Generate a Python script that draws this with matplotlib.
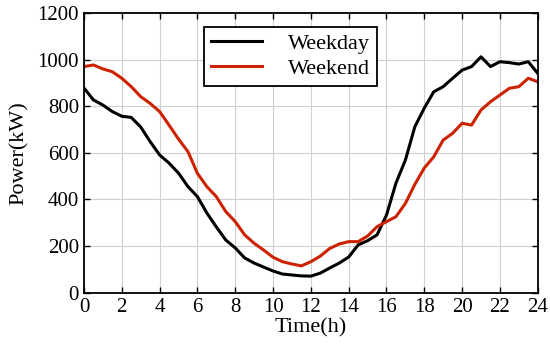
import matplotlib
matplotlib.use('Agg')
import matplotlib.pyplot as plt
import numpy as np

plt.rcParams['font.family'] = ['Liberation Serif', 'DejaVu Serif']

# half-hourly samples
hours = np.arange(0, 24.5, 0.5)
weekday = [878, 827, 805, 777, 757, 752, 711, 648, 591, 556,
           513, 455, 412, 342, 282, 226, 192, 149, 127, 110,
           93, 80, 76, 72, 71, 84, 106, 127, 153, 205,
           223, 248, 333, 470, 569, 712, 792, 862, 884, 920,
           955, 970, 1012, 970, 991, 987, 981, 991, 941]
weekend = [970, 977, 960, 948, 920, 884, 841, 812, 777, 719,
           659, 605, 512, 455, 412, 348, 305, 248, 212, 183,
           152, 133, 123, 115, 133, 157, 190, 209, 219, 219,
           243, 283, 305, 326, 383, 465, 535, 583, 655, 684,
           727, 719, 784, 819, 848, 877, 884, 920, 905]

fig = plt.figure(figsize=(5.5, 3.59), dpi=100)
ax = fig.add_axes([0.1527, 0.1847, 0.825, 0.7791])

ax.plot(hours, weekday, color='black', lw=2.2, label='Weekday')
ax.plot(hours, weekend, color='#cc2200', lw=2.2, label='Weekend')

ax.set_xlim(0, 24)
ax.set_ylim(0, 1200)
ax.set_xticks(np.arange(0, 25, 2))
ax.set_yticks(np.arange(0, 1201, 200))
ax.grid(True, color='#d0d0d0', lw=0.8)
ax.tick_params(direction='in', top=True, right=True, labelsize=15, length=4, width=1)
for s in ax.spines.values():
    s.set_linewidth(1.3)

ax.set_xlabel('Time(h)', fontsize=16, labelpad=1)
ax.set_ylabel('Power(kW)', fontsize=16, labelpad=6)

leg = ax.legend(loc='upper left', bbox_to_anchor=(0.2645, 0.95), borderaxespad=0,
                fontsize=16, fancybox=False, framealpha=1, edgecolor='black',
                handlelength=2.3, handletextpad=1.2, borderpad=0.3,
                labelspacing=0.2)
leg.get_frame().set_linewidth(1.3)

fig.savefig('out.png', dpi=100)
